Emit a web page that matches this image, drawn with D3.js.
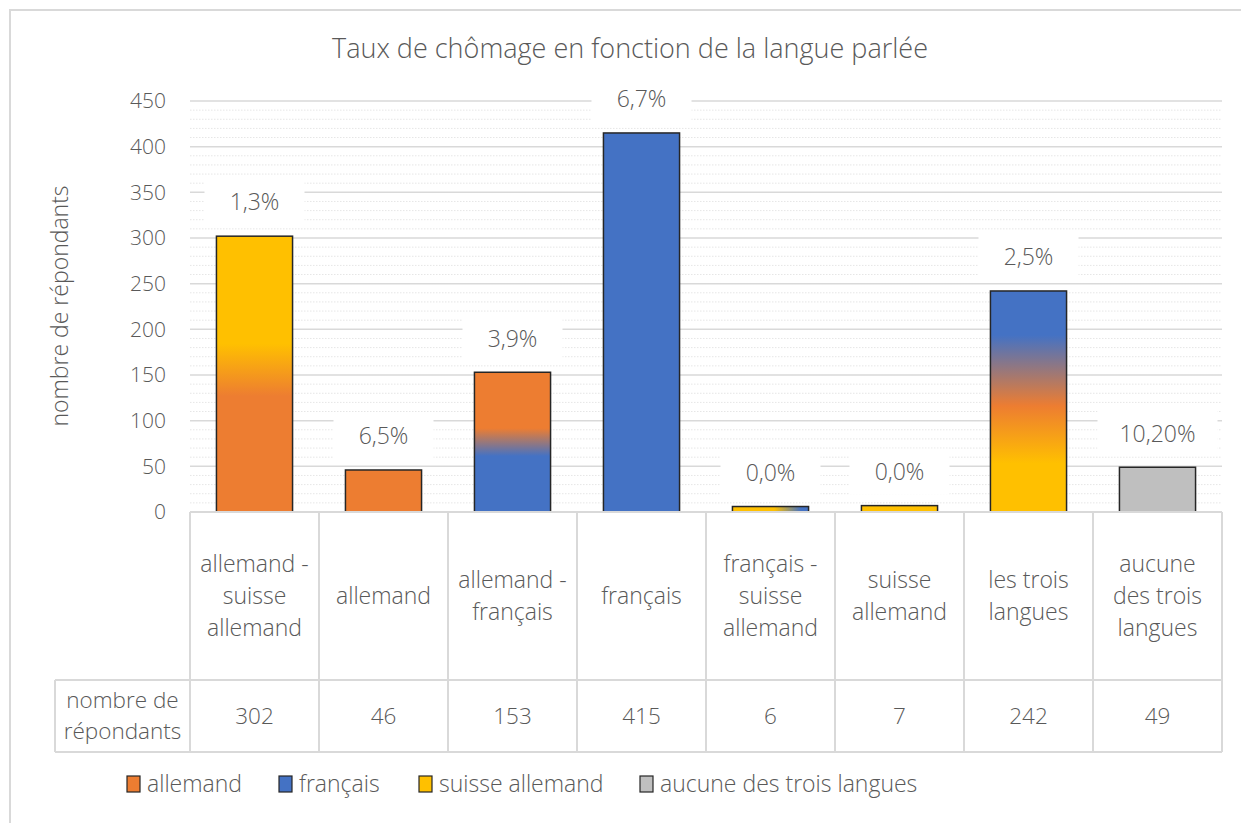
<!DOCTYPE html>
<html>
<head>
<meta charset="utf-8">
<script src="https://cdn.jsdelivr.net/npm/d3@7"></script>
<style>
  body { margin: 0; background: #fff; }
  svg text { font-family: "Open Sans", Lato, sans-serif; font-weight: 300; fill: #595959; }
</style>
</head>
<body>
<script>
// data
var categories = [
  ["allemand -", "suisse", "allemand"],
  ["allemand"],
  ["allemand -", "français"],
  ["français"],
  ["français -", "suisse", "allemand"],
  ["suisse", "allemand"],
  ["les trois", "langues"],
  ["aucune", "des trois", "langues"]
];
var counts = [302, 46, 153, 415, 6, 7, 242, 49];
var rates = ["1,3%", "6,5%", "3,9%", "6,7%", "0,0%", "0,0%", "2,5%", "10,20%"];
// gradient stops (offset from top of bar, language)
var mixes = [
  [[0, "suisse"], [0.39, "suisse"], [0.58, "allemand"], [1, "allemand"]],
  [[0, "allemand"], [1, "allemand"]],
  [[0, "allemand"], [0.4, "allemand"], [0.6, "francais"], [1, "francais"]],
  [[0, "francais"], [1, "francais"]],
  [[0, "suisse"], [0.55, "suisse"], [0.9, "francais"], [1, "francais"]],
  [[0, "suisse"], [1, "suisse"]],
  [[0, "francais"], [0.2, "francais"], [0.52, "allemand"], [0.78, "suisse"], [1, "suisse"]],
  [[0, "aucune"], [1, "aucune"]]
];
var legendKeys = ["allemand", "francais", "suisse", "aucune"];
var legendNames = ["allemand", "français", "suisse allemand", "aucune des trois langues"];
var yTicks = [0, 50, 100, 150, 200, 250, 300, 350, 400, 450];
var rowLabel = ["nombre de", "répondants"];

var colors = { allemand: "#ED7D31", francais: "#4472C4", suisse: "#FFC000", aucune: "#BFBFBF" };

var W = 1241, H = 823;
var plotLeft = 190, plotRight = 1222, plotTop = 101, plotBottom = 512;

var svg = d3.select("body").append("svg")
    .attr("width", W)
    .attr("height", H);

// outer frame
svg.append("rect")
    .attr("x", 10).attr("y", 10)
    .attr("width", W).attr("height", H)
    .attr("fill", "none")
    .attr("stroke", "#d9d9d9")
    .attr("stroke-width", 2);

var x = d3.scaleBand().domain(d3.range(categories.length)).range([plotLeft, plotRight]);
var y = d3.scaleLinear().domain([0, 450]).range([plotBottom, plotTop]);

// gradients
var defs = svg.append("defs");
mixes.forEach(function(m, i) {
  var g = defs.append("linearGradient")
      .attr("id", "grad" + i);
  if (i == 4) {
    g.attr("x1", 0).attr("y1", 0).attr("x2", 1).attr("y2", 0);
  } else {
    g.attr("x1", 0).attr("y1", 0).attr("x2", 0).attr("y2", 1);
  }
  m.forEach(function(s) {
    g.append("stop").attr("offset", s[0]).attr("stop-color", colors[s[1]]);
  });
});

// title
svg.append("text")
    .attr("x", 630).attr("y", 58)
    .attr("text-anchor", "middle")
    .style("font-size", "27px")
    .text("Taux de chômage en fonction de la langue parlée");

// minor gridlines (dotted)
svg.append("g").selectAll("line")
    .data(d3.range(10, 450, 10).filter(function(v) { return v % 50 != 0; }))
    .enter().append("line")
    .attr("x1", plotLeft).attr("x2", plotRight)
    .attr("y1", function(d) { return y(d); })
    .attr("y2", function(d) { return y(d); })
    .attr("stroke", "#e6e6e6")
    .attr("stroke-width", 1)
    .attr("stroke-dasharray", "1.5,1.5");

// major gridlines
svg.append("g").selectAll("line")
    .data(yTicks.slice(1))
    .enter().append("line")
    .attr("x1", plotLeft).attr("x2", plotRight)
    .attr("y1", function(d) { return y(d); })
    .attr("y2", function(d) { return y(d); })
    .attr("stroke", "#d9d9d9")
    .attr("stroke-width", 1.5);

// y axis labels
var yAxis = svg.append("g")
    .attr("transform", "translate(" + (plotLeft - 14) + ",0)")
    .call(d3.axisLeft(y).tickValues(yTicks).tickSize(0).tickPadding(10));
yAxis.select(".domain").remove();
yAxis.attr("font-family", null);
yAxis.selectAll("text")
    .style("font-size", "21px")
    .attr("fill", "#595959");

svg.append("text")
    .attr("transform", "translate(60,306) rotate(-90)")
    .attr("text-anchor", "middle")
    .attr("dy", "0.36em")
    .style("font-size", "23px")
    .text("nombre de répondants");

var bw = x.bandwidth() * 0.59;

// label boxes
var lab = svg.append("g").selectAll("g")
    .data(counts)
    .enter().append("g")
    .attr("transform", function(d, i) {
      return "translate(" + (x(i) + x.bandwidth() / 2) + "," + (y(d) - 34) + ")";
    });
lab.append("rect")
    .attr("x", function(d, i) { return rates[i].length > 5 ? -60 : -50; })
    .attr("width", function(d, i) { return rates[i].length > 5 ? 120 : 100; })
    .attr("y", -23).attr("height", 46)
    .attr("fill", "#fff");
lab.append("text")
    .attr("text-anchor", "middle")
    .attr("dy", "0.36em")
    .style("font-size", "23px")
    .text(function(d, i) { return rates[i]; });

// bars
svg.append("g").selectAll("rect")
    .data(counts)
    .enter().append("rect")
    .attr("x", function(d, i) { return x(i) + (x.bandwidth() - bw) / 2; })
    .attr("y", function(d) { return y(d); })
    .attr("width", bw)
    .attr("height", function(d) { return y(0) - y(d); })
    .attr("fill", function(d, i) { return "url(#grad" + i + ")"; })
    .attr("stroke", "#262626")
    .attr("stroke-width", 1.5);

// data table
var rowTop = plotBottom, rowMid = 680, rowBot = 752, headLeft = 55;
var tbl = svg.append("g")
    .attr("stroke", "#d9d9d9")
    .attr("stroke-width", 2)
    .attr("fill", "none");
tbl.append("line").attr("x1", plotLeft).attr("x2", plotRight).attr("y1", rowTop).attr("y2", rowTop);
tbl.append("line").attr("x1", headLeft).attr("x2", plotRight).attr("y1", rowMid).attr("y2", rowMid);
tbl.append("line").attr("x1", headLeft).attr("x2", plotRight).attr("y1", rowBot).attr("y2", rowBot);
tbl.append("line").attr("x1", headLeft).attr("x2", headLeft).attr("y1", rowMid).attr("y2", rowBot);
tbl.selectAll(".v")
    .data(d3.range(categories.length + 1))
    .enter().append("line")
    .attr("x1", function(i) { return plotLeft + i * x.bandwidth(); })
    .attr("x2", function(i) { return plotLeft + i * x.bandwidth(); })
    .attr("y1", rowTop).attr("y2", rowBot);

// category labels
var cat = svg.append("g").selectAll("text")
    .data(categories)
    .enter().append("text")
    .attr("text-anchor", "middle")
    .style("font-size", "23px")
    .attr("transform", function(d, i) {
      return "translate(" + (x(i) + x.bandwidth() / 2) + ",596)";
    });
cat.selectAll("tspan")
    .data(function(d) { return d.map(function(t, k) { return [t, k, d.length]; }); })
    .enter().append("tspan")
    .attr("x", 0)
    .attr("y", function(t) { return (t[1] - (t[2] - 1) / 2) * 32; })
    .attr("dy", "0.36em")
    .text(function(t) { return t[0]; });

// counts row
svg.append("g").selectAll("text")
    .data(counts)
    .enter().append("text")
    .attr("x", function(d, i) { return x(i) + x.bandwidth() / 2; })
    .attr("y", (rowMid + rowBot) / 2)
    .attr("dy", "0.36em")
    .attr("text-anchor", "middle")
    .style("font-size", "22.5px")
    .text(function(d) { return d; });

svg.append("g").selectAll("text")
    .data(rowLabel)
    .enter().append("text")
    .attr("x", (headLeft + plotLeft) / 2)
    .attr("y", function(d, i) { return 700 + i * 31; })
    .attr("dy", "0.36em")
    .attr("text-anchor", "middle")
    .style("font-size", "22.5px")
    .text(function(d) { return d; });

// legend
var legX = [127, 279, 419, 640];
var leg = svg.append("g").selectAll("g")
    .data(legendKeys)
    .enter().append("g")
    .attr("transform", function(d, i) { return "translate(" + legX[i] + ",784)"; });
leg.append("rect")
    .attr("x", 0).attr("y", -8)
    .attr("width", 13).attr("height", 16)
    .attr("fill", function(d) { return colors[d]; })
    .attr("stroke", "#262626")
    .attr("stroke-width", 1.2);
leg.append("text")
    .attr("x", 20)
    .attr("dy", "0.36em")
    .style("font-size", "23px")
    .text(function(d, i) { return legendNames[i]; });
</script>
</body>
</html>
